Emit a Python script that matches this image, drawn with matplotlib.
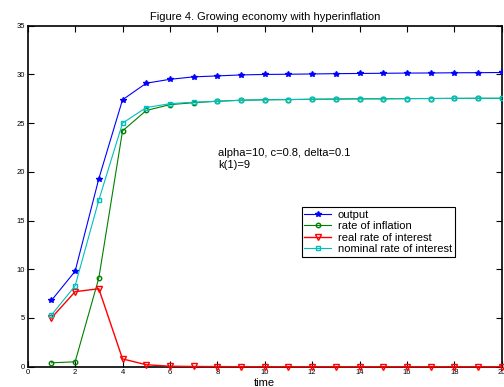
import numpy as np
import matplotlib
matplotlib.use("Agg")
import matplotlib.pyplot as plt

# ── data ───────────────────────────────────────────────────────────────────
t = np.arange(1, 21)
output = [6.8, 9.8, 19.3, 27.4, 29.1, 29.5, 29.75, 29.85, 29.95, 30.0,
          30.02, 30.05, 30.08, 30.1, 30.12, 30.14, 30.15, 30.17, 30.18, 30.2]
inflation = [0.4, 0.5, 9.1, 24.2, 26.3, 26.9, 27.1, 27.25, 27.35, 27.4,
             27.42, 27.45, 27.47, 27.5, 27.5, 27.52, 27.53, 27.54, 27.55, 27.55]
real_rate = [5.0, 7.7, 8.0, 0.8, 0.2, 0.05, 0.02, 0.01, 0.0, 0.0,
             0.0, 0.0, 0.0, 0.0, 0.0, 0.0, 0.0, 0.0, 0.0, 0.0]
nominal_rate = [5.3, 8.3, 17.1, 25.0, 26.6, 27.0, 27.15, 27.25, 27.35, 27.4,
                27.42, 27.45, 27.47, 27.5, 27.5, 27.52, 27.53, 27.54, 27.55, 27.55]

plt.rcParams.update({
    "font.family": "Liberation Sans",
    "font.size": 8,
})

fig = plt.figure(figsize=(5.04, 3.87), dpi=100)
ax = fig.add_axes([0.055, 0.0525, 0.9405, 0.881])

ms = 3.2
ax.plot(t, output, color="blue", lw=0.8, marker="*", ms=ms + 0.8,
        label="output", zorder=3)
ax.plot(t, inflation, color="#008000", lw=0.8, marker="o", ms=ms,
        mfc="none", label="rate of inflation", zorder=3)
ax.plot(t, real_rate, color="red", lw=1.0, marker="v", ms=ms + 0.5,
        mfc="none", label="real rate of interest", zorder=3, clip_on=False)
ax.plot(t, nominal_rate, color="#00BFBF", lw=0.8, marker="s", ms=ms,
        mfc="none", label="nominal rate of interest", zorder=3)

ax.set_xlim(0, 20)
ax.set_ylim(0, 35)
ax.set_xticks(range(0, 21, 2))
ax.set_yticks(range(0, 36, 5))
ax.tick_params(direction="in", top=True, right=True, length=4, width=0.8,
               labelsize=5.5, pad=2)
for s in ax.spines.values():
    s.set_linewidth(1.2)

ax.set_xlabel("time", fontsize=8, labelpad=1)
ax.set_title("Figure 4. Growing economy with hyperinflation", fontsize=8, pad=4)

ax.text(8.03, 22.4, "alpha=10, c=0.8, delta=0.1\nk(1)=9", fontsize=8,
        va="top", linespacing=1.15)

leg = ax.legend(loc="upper left", bbox_to_anchor=(0.578, 0.468), fontsize=8,
                fancybox=False, framealpha=1, edgecolor="black",
                borderpad=0.25, labelspacing=0.12, handlelength=2.4,
                handletextpad=0.6, borderaxespad=0)
leg.get_frame().set_linewidth(0.8)

plt.savefig("out.png", dpi=100)
